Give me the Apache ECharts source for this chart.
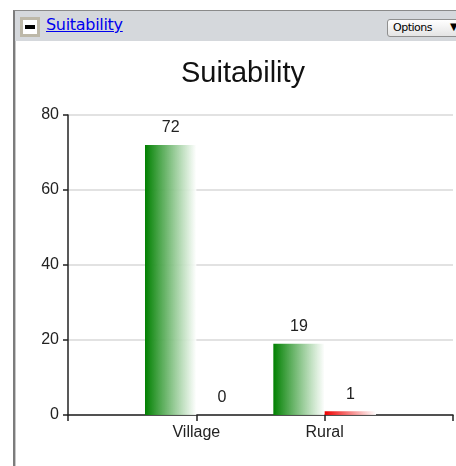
<!DOCTYPE html>
<html>
<head>
<meta charset="utf-8">
<script src="https://cdn.jsdelivr.net/npm/echarts@6/dist/echarts.min.js"></script>
<style>
  html, body { margin: 0; padding: 0; background: #fff; width: 456px; height: 466px; overflow: hidden; }
  #panel { position: absolute; left: 13px; top: 10px; width: 460px; height: 470px;
           border-top: 1px solid #8a8a8a; border-left: 2px solid #7c7c7c; box-sizing: border-box; }
  #panel .inner { position: absolute; left: 0; top: 0; right: 0; bottom: 0; border-left: 1px solid #c8c8c8; }
  #header { position: absolute; left: 0; top: 0; right: 0; height: 30px; background: #d5d8dc; }
  #minus { position: absolute; left: 5px; top: 6px; width: 14px; height: 14px; background: #fff;
           border: 3px solid #bdb8a8; }
  #minus::after { content: ""; position: absolute; left: 2px; top: 5px; width: 10px; height: 4px; background: #000; }
  #link { position: absolute; left: 31px; top: 4px; font: 16px "DejaVu Sans", sans-serif; color: #0000ee;
          text-decoration: underline; letter-spacing: -0.3px; }
  #opts { position: absolute; left: 372px; top: 8px; width: 90px; height: 18px; border: 1px solid #8f8f8f;
          border-radius: 3px; background: linear-gradient(#ffffff, #e4e4e4); font: 11px "DejaVu Sans", sans-serif;
          color: #000; box-sizing: border-box; }
  #opts span { position: absolute; left: 5px; top: 1px; letter-spacing: -0.5px; }
  #opts b { position: absolute; left: 62px; top: 1px; font-size: 10px; }
  #chart { position: absolute; left: 0; top: 0; width: 456px; height: 466px; }
</style>
</head>
<body>
<div id="panel"><div class="inner"></div>
  <div id="header">
    <div id="minus"></div>
    <div id="link">Suitability</div>
    <div id="opts"><span>Options</span><b>&#9660;</b></div>
  </div>
</div>
<div id="chart"></div>
<script>
// Category slots: empty slots at both ends keep the axis padded like the plot frame
var categories = ['', 'Village', 'Rural', ''];
var suitableValues = [null, 72, 19, null];
var unsuitableValues = [null, 0, 1, null];
var yTicks = [0, 20, 40, 60, 80];

var chart = echarts.init(document.getElementById('chart'), null, { renderer: 'canvas' });

function fade(color) {
  return new echarts.graphic.LinearGradient(0, 0, 1, 0, [
    { offset: 0, color: color },
    { offset: 1, color: 'rgba(255,255,255,0.9)' }
  ]);
}

var labelStyle = {
  show: true, position: 'top', distance: 9,
  fontFamily: 'Liberation Sans, Arial, sans-serif', fontSize: 16, color: '#222'
};

chart.setOption({
  backgroundColor: 'transparent',
  animation: false,
  title: {
    text: 'Suitability', left: 176, top: 54,
    textStyle: { fontFamily: 'Liberation Sans, Arial, sans-serif', fontSize: 29, fontWeight: 'normal', color: '#111' }
  },
  grid: { left: 68, right: 2, top: 115, bottom: 51, containLabel: false },
  xAxis: {
    type: 'category', data: categories, boundaryGap: false,
    axisLine: { lineStyle: { color: '#222', width: 1.5 } },
    axisTick: { show: true, length: 6, lineStyle: { color: '#222', width: 1.5 } },
    axisLabel: { fontFamily: 'Liberation Sans, Arial, sans-serif', fontSize: 16, color: '#222', margin: 10, interval: 0 },
    splitLine: { show: false }
  },
  yAxis: {
    type: 'value', min: yTicks[0], max: yTicks[yTicks.length - 1], interval: 20,
    axisLine: { show: true, lineStyle: { color: '#222', width: 1.5 } },
    axisTick: { show: true, length: 5, lineStyle: { color: '#222', width: 1.5 } },
    axisLabel: { fontFamily: 'Liberation Sans, Arial, sans-serif', fontSize: 16, color: '#222', margin: 9 },
    splitLine: { show: true, lineStyle: { color: '#d9d9d9', width: 1.5 } }
  },
  series: [
    {
      type: 'bar', data: suitableValues, barGap: '0%', barCategoryGap: '20%',
      itemStyle: { color: fade('#008000') }, label: labelStyle
    },
    {
      type: 'bar', data: unsuitableValues, barGap: '0%', barCategoryGap: '20%', barMinHeight: 0,
      itemStyle: { color: fade('#ee0000') }, label: labelStyle
    }
  ]
});
</script>
</body>
</html>
